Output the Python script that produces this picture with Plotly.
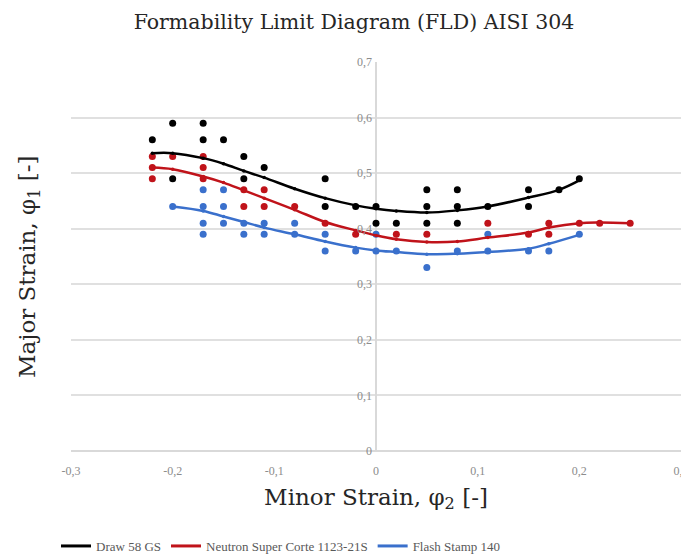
import plotly.graph_objects as go

# ---- measured data points ----
draw_x = [-0.22, -0.2, -0.2, -0.17, -0.17, -0.15, -0.13, -0.13, -0.11, -0.05, -0.05,
          -0.02, 0, 0, 0.02, 0.05, 0.05, 0.05, 0.08, 0.08, 0.08, 0.11, 0.15, 0.15, 0.18, 0.2]
draw_y = [0.56, 0.59, 0.49, 0.59, 0.56, 0.56, 0.53, 0.49, 0.51, 0.49, 0.44,
          0.44, 0.44, 0.41, 0.41, 0.47, 0.44, 0.41, 0.47, 0.44, 0.41, 0.44, 0.47, 0.44, 0.47, 0.49]

neut_x = [-0.22, -0.22, -0.22, -0.2, -0.17, -0.17, -0.17, -0.13, -0.13, -0.11, -0.11, -0.08,
          -0.05, -0.02, 0.02, 0.05, 0.11, 0.15, 0.17, 0.17, 0.2, 0.22, 0.25]
neut_y = [0.53, 0.51, 0.49, 0.53, 0.53, 0.51, 0.49, 0.47, 0.44, 0.47, 0.44, 0.44,
          0.41, 0.39, 0.39, 0.39, 0.41, 0.39, 0.41, 0.39, 0.41, 0.41, 0.41]

flash_x = [-0.2, -0.17, -0.17, -0.17, -0.17, -0.15, -0.15, -0.15, -0.13, -0.13, -0.11, -0.11,
           -0.08, -0.08, -0.05, -0.05, -0.02, 0, 0, 0.02, 0.05, 0.08, 0.11, 0.11, 0.15, 0.17, 0.2]
flash_y = [0.44, 0.47, 0.44, 0.41, 0.39, 0.47, 0.44, 0.41, 0.41, 0.39, 0.41, 0.39,
           0.41, 0.39, 0.39, 0.36, 0.36, 0.39, 0.36, 0.36, 0.33, 0.36, 0.39, 0.36, 0.36, 0.36, 0.39]

# ---- fitted curves ----
draw_fit_x = [-0.22, -0.2, -0.17, -0.15, -0.13, -0.11, -0.08, -0.05, -0.02, 0, 0.02, 0.05,
              0.08, 0.11, 0.15, 0.18, 0.2]
draw_fit_y = [0.536, 0.536, 0.527, 0.517, 0.504, 0.492, 0.472, 0.455, 0.442, 0.436, 0.432, 0.429,
              0.433, 0.44, 0.456, 0.47, 0.487]

neut_fit_x = [-0.22, -0.2, -0.17, -0.15, -0.13, -0.11, -0.08, -0.05, -0.02, 0, 0.02, 0.05,
              0.08, 0.11, 0.15, 0.17, 0.2, 0.22, 0.25]
neut_fit_y = [0.51, 0.507, 0.494, 0.483, 0.469, 0.455, 0.434, 0.412, 0.397, 0.388, 0.381, 0.376,
              0.377, 0.384, 0.393, 0.402, 0.41, 0.411, 0.41]

flash_fit_x = [-0.2, -0.17, -0.15, -0.13, -0.11, -0.08, -0.05, -0.02, 0, 0.02, 0.05,
               0.08, 0.11, 0.15, 0.17, 0.2]
flash_fit_y = [0.44, 0.432, 0.422, 0.412, 0.402, 0.39, 0.377, 0.366, 0.361, 0.358, 0.354,
               0.355, 0.358, 0.364, 0.373, 0.389]

series_names = ["Draw 58 GS", "Neutron Super Corte 1123-21S", "Flash Stamp 140"]
colors = ["#000000", "#C0131A", "#3A70CC"]

x_ticks = [-0.3, -0.2, -0.1, 0, 0.1, 0.2, 0.3]
x_tick_text = ["-0,3", "-0,2", "-0,1", "0", "0,1", "0,2", "0,3"]
y_ticks = [0, 0.1, 0.2, 0.3, 0.4, 0.5, 0.6, 0.7]
y_tick_text = ["0", "0,1", "0,2", "0,3", "0,4", "0,5", "0,6", "0,7"]

serif = "Liberation Serif, Times New Roman, serif"
title_serif = "DejaVu Serif, serif"

# page body adds an 8px offset; figure is sized so the page matches 689x558
W, H = 681, 550
L, R, T, B = 63, 8, 54, 107
PW, PH = W - L - R, H - T - B

fig = go.Figure()
fits = [(draw_fit_x, draw_fit_y), (neut_fit_x, neut_fit_y), (flash_fit_x, flash_fit_y)]
pts = [(draw_x, draw_y), (neut_x, neut_y), (flash_x, flash_y)]

for (px, py), c in zip(pts, colors):
    fig.add_trace(go.Scatter(x=px, y=py, mode="markers", showlegend=False,
                             marker=dict(color=c, size=7), hoverinfo="x+y"))
for (fx, fy), c, n in zip(fits, colors, series_names):
    fig.add_trace(go.Scatter(x=fx, y=fy, mode="lines+markers", name=n, showlegend=False,
                             line=dict(color=c, width=2.5, shape="spline", smoothing=1.0),
                             marker=dict(color=c, size=3.5)))
# legend entries (line only)
for c, n in zip(colors, series_names):
    fig.add_trace(go.Scatter(x=[None], y=[None], mode="lines", name=n,
                             line=dict(color=c, width=3)))

fig.update_layout(
    width=W, height=H,
    paper_bgcolor="white", plot_bgcolor="white",
    margin=dict(l=L, r=R, t=T, b=B, autoexpand=False),
    title=dict(text="Formability Limit Diagram (FLD) AISI 304", x=(354 - 8) / W, xanchor="center",
               y=1 - (22 - 8) / H, yanchor="middle", xref="container", yref="container",
               font=dict(family=title_serif, size=20.5, color="#262626")),
    font=dict(family=serif, color="#888888"),
    xaxis=dict(range=[-0.3, 0.3], tickvals=x_ticks, ticktext=x_tick_text,
               showgrid=False, zeroline=True, zerolinecolor="#d9d9d9", zerolinewidth=1.5,
               showline=False, ticks="", ticklabelstandoff=11, automargin=False,
               tickfont=dict(family=serif, size=12, color="#8c8c8c"),
               title=dict(text="Minor Strain, φ<sub>2</sub> [-]", standoff=11,
                          font=dict(family=title_serif, size=23, color="#262626"))),
    yaxis=dict(range=[0, 0.7], tickvals=y_ticks, ticktext=y_tick_text,
               anchor="free", position=0.5, automargin=False,
               showgrid=True, gridcolor="#e0e0e0", gridwidth=1.5,
               zeroline=True, zerolinecolor="#d9d9d9", zerolinewidth=1.5,
               showline=False, ticks="", ticklabelstandoff=4,
               tickfont=dict(family=serif, size=12, color="#8c8c8c")),
    legend=dict(orientation="h", x=(281 - 8 - L) / PW, xanchor="center",
                y=-(546 - 8 - (T + PH)) / PH, yanchor="middle",
                font=dict(family=serif, size=13, color="#595959"),
                itemwidth=30, tracegroupgap=0),
    showlegend=True,
)

fig.add_annotation(text="Major Strain, φ<sub>1</sub> [-]",
                   x=(29 - 8 - L) / PW, y=(T + PH - (267 - 8)) / PH, xref="paper", yref="paper",
                   xanchor="center", yanchor="middle",
                   showarrow=False, textangle=-90,
                   font=dict(family=title_serif, size=23, color="#262626"))

fig.write_html("out.html")
